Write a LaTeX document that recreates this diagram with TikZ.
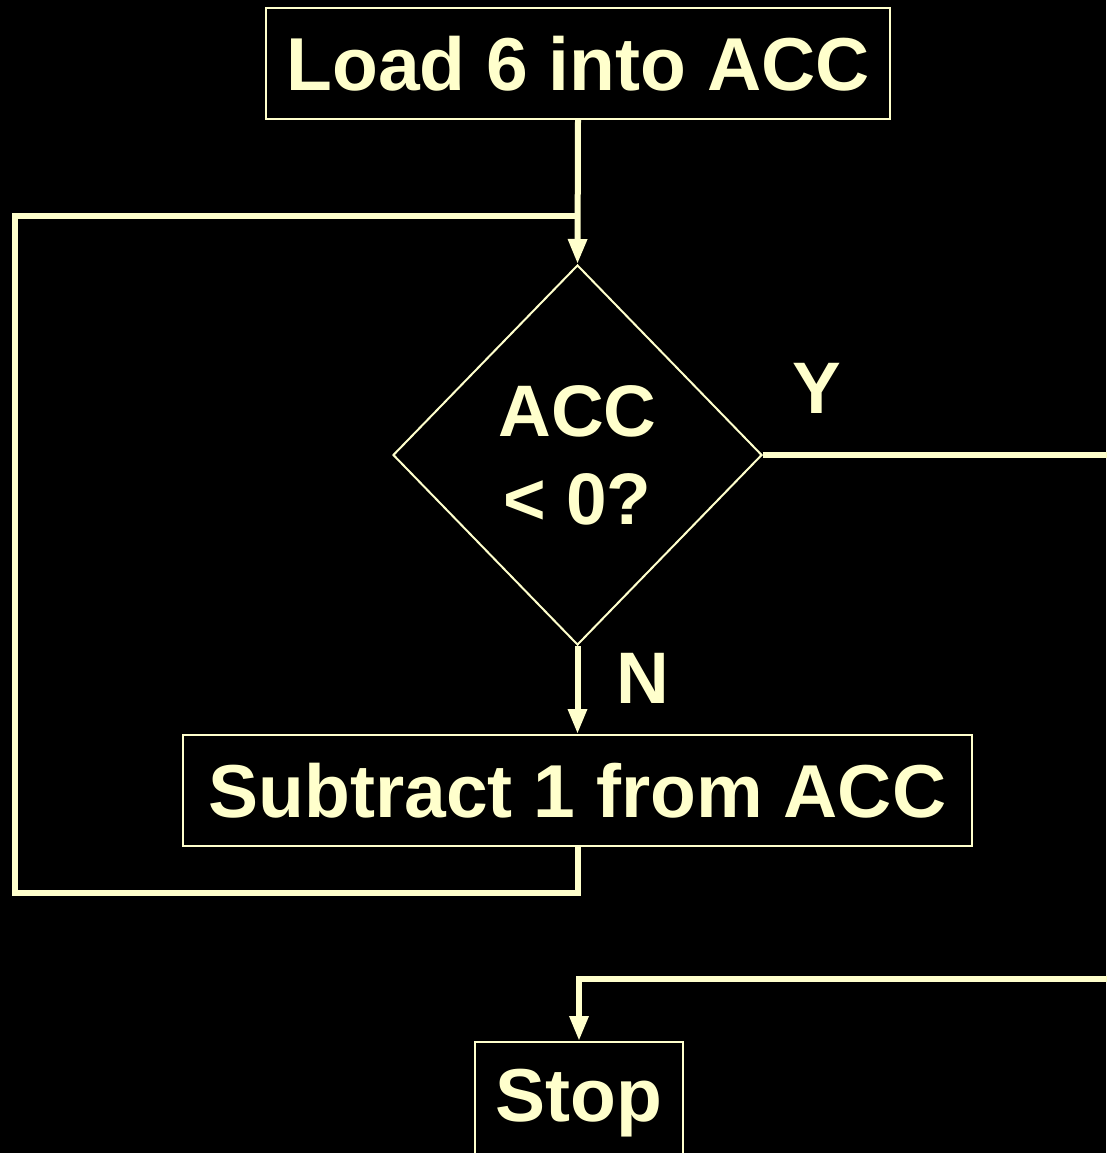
\documentclass[tikz,border=0pt]{standalone}
\usepackage{fontspec}
\setmainfont{Liberation Sans}
\usetikzlibrary{shapes.geometric,arrows.meta}
\definecolor{fg}{HTML}{FFFFCC}
\begin{document}
\begin{tikzpicture}[x=1pt,y=-1pt,
  box/.style={draw=fg,line width=2pt,inner sep=0pt,minimum height=111pt,text=fg,
    font=\fontsize{75}{88}\selectfont\bfseries},
  dec/.style={draw=fg,line width=2pt,diamond,inner sep=0pt,minimum width=369pt,minimum height=380pt,
    text=fg,align=center,font=\fontsize{73}{90}\selectfont\bfseries},
  lbl/.style={text=fg,font=\fontsize{73}{88}\selectfont\bfseries,inner sep=0pt},
  conn/.style={draw=fg,line width=6pt,line join=miter},
  arr/.style={-{Triangle[width=18pt,length=25pt]}}]
\useasboundingbox[fill=black] (0,0) rectangle (1106,1153);
\node[box,minimum width=624pt] (load) at (578,63.5) {Load 6 into ACC};
\node[dec] (test) at (577.5,455) {ACC\\[-2pt]< 0?};
\node[box,minimum width=789pt] (sub) at (577.5,790.5) {Subtract 1 from ACC};
\node[box,minimum width=208pt,minimum height=122pt] (stop) at (579,1103) {Stop};
\node[lbl] (ylab) at (817,388) {Y};
\node[lbl] (nlab) at (643,678) {N};
\coordinate (loopL) at (15,893);
\coordinate (loopJ) at (578,216);
\coordinate (yEnd) at (1112,455);
\coordinate (stopR) at (1112,979);
\draw[conn] (sub.south) |- (loopL) |- (loopJ);
\draw[conn,arr] (load.south) -- (test.north);
\draw[conn,arr] (test.south) -- (sub.north);
\draw[conn] (test.east) -- (yEnd);
\draw[conn,arr] (stopR) -| (stop.north);
\end{tikzpicture}
\end{document}
